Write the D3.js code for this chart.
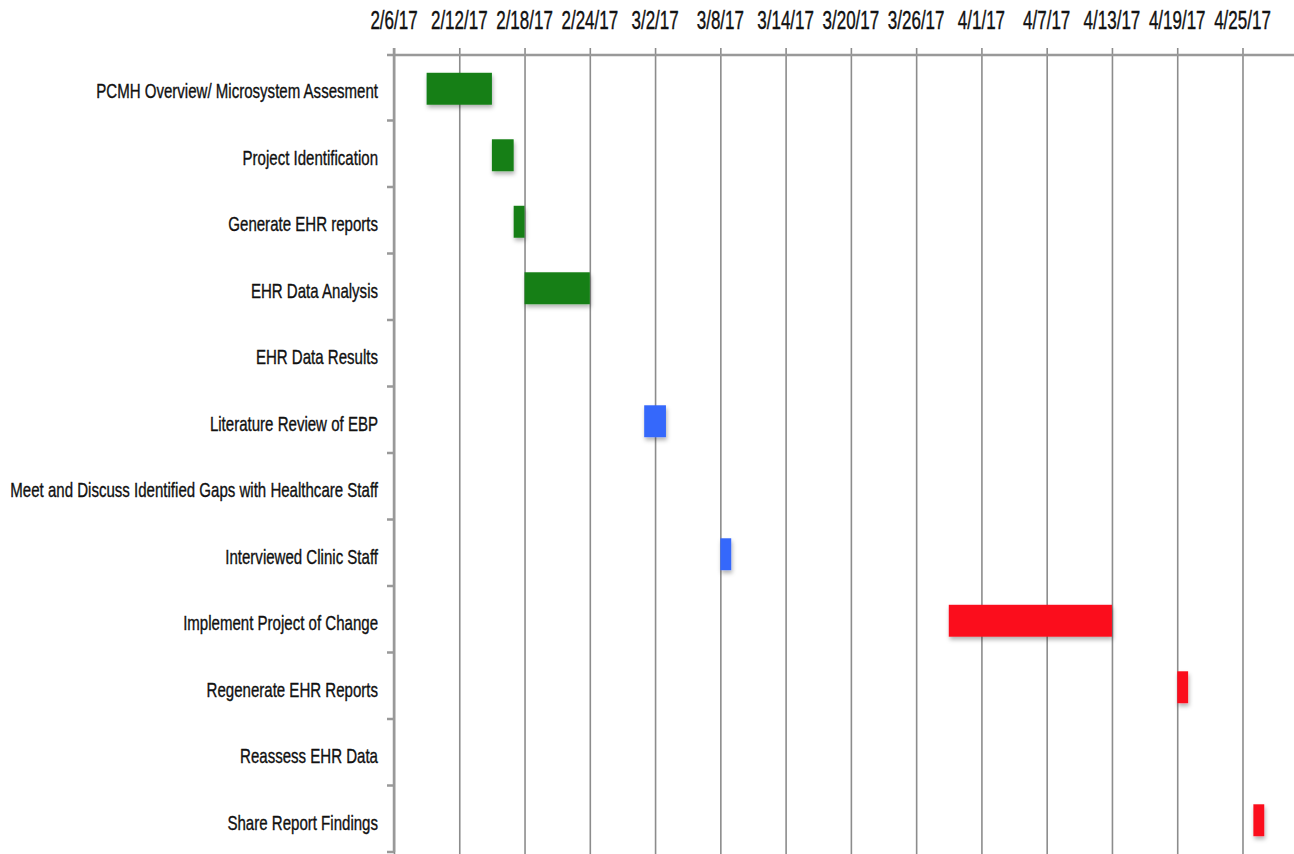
<!DOCTYPE html>
<head>
<style>
  body { margin: 0; background: #fff; }
  .grid line { stroke: #8c8c8c; stroke-width: 1.6px; }
  .grid path { display: none; }
  .axis-line { stroke: #999; stroke-width: 2.5px; fill: none; }
  .date-label { font-family: "Liberation Sans", Arial, sans-serif; font-size: 25px; fill: #111; stroke: #111; stroke-width: 0.4px; }
  .task-label { font-family: "Liberation Sans", Arial, sans-serif; font-size: 20px; fill: #111; stroke: #111; stroke-width: 0.35px; }
</style>
</head>
<body>
<svg width="1294" height="854"></svg>
<script src="https://d3js.org/d3.v7.min.js"></script>
<script>

var tasks = [
  "PCMH Overview/ Microsystem Assesment",
  "Project Identification",
  "Generate EHR reports ",
  "EHR Data Analysis ",
  "EHR Data Results",
  "Literature Review of EBP",
  "Meet and Discuss Identified Gaps with Healthcare Staff",
  "Interviewed Clinic Staff",
  "Implement Project of Change",
  "Regenerate EHR Reports",
  "Reassess EHR Data",
  "Share Report Findings"
];
// start / end dates per task (null = no bar drawn)
var starts = ["2017-02-09", "2017-02-15", "2017-02-17", "2017-02-18", null, "2017-03-01", null, "2017-03-08", "2017-03-29", "2017-04-19", null, "2017-04-26"];
var ends   = ["2017-02-15", "2017-02-17", "2017-02-18", "2017-02-24", null, "2017-03-03", null, "2017-03-09", "2017-04-13", "2017-04-20", null, "2017-04-27"];
var phases = ["plan", "plan", "plan", "plan", "plan", "research", "research", "research", "change", "change", "change", "change"];
var tickDates = ["2017-02-06", "2017-02-12", "2017-02-18", "2017-02-24", "2017-03-02", "2017-03-08", "2017-03-14",
                 "2017-03-20", "2017-03-26", "2017-04-01", "2017-04-07", "2017-04-13", "2017-04-19", "2017-04-25"];
var domainDates = ["2017-02-06", "2017-04-29"];

var phaseColor = d3.scaleOrdinal()
    .domain(["plan", "research", "change"])
    .range(["#127f15", "#3467fb", "#fb0d1f"]);

var parse = d3.utcParse("%Y-%m-%d");
var fmt = d3.utcFormat("%-m/%-d/%y");

var svg = d3.select("svg");
var plotLeft = 394, plotTop = 55, plotBottom = 853.5;

var x = d3.scaleUtc()
    .domain(domainDates.map(parse))
    .range([plotLeft, 1286]);

var y = d3.scaleBand()
    .domain(tasks)
    .range([plotTop + 0.5, plotBottom])
    .paddingInner(0.52)
    .paddingOuter(0.26);

var rowH = (plotBottom - plotTop - 0.5) / tasks.length;

// drop shadow for bars
var defs = svg.append("defs");
defs.append("filter")
    .attr("id", "shadow")
    .attr("x", "-20%").attr("y", "-20%").attr("width", "160%").attr("height", "180%")
  .append("feDropShadow")
    .attr("dx", 1).attr("dy", 3).attr("stdDeviation", 2.2)
    .attr("flood-color", "#000").attr("flood-opacity", 0.3);

// vertical gridlines + top ticks
var gridAxis = d3.axisTop(x)
    .tickValues(tickDates.map(parse))
    .tickSize(-(854 - plotTop) - 7)
    .tickFormat("");
svg.append("g")
    .attr("class", "grid")
    .attr("transform", "translate(0," + (plotTop - 7) + ")")
    .call(gridAxis);

// date labels (squeezed like the original)
svg.append("g")
  .selectAll("g")
  .data(tickDates.map(parse))
  .join("g")
    .attr("transform", function(d) { return "translate(" + x(d) + ",29) scale(0.68,1)"; })
  .append("text")
    .attr("class", "date-label")
    .attr("text-anchor", "middle")
    .text(function(d) { return fmt(d); });

// axis lines
svg.append("line").attr("class", "axis-line")
    .attr("x1", plotLeft - 7).attr("x2", 1294).attr("y1", plotTop).attr("y2", plotTop);
svg.append("line").attr("class", "axis-line")
    .attr("x1", plotLeft).attr("x2", plotLeft).attr("y1", plotTop - 7).attr("y2", plotBottom - 1.5);

// left row-boundary ticks
svg.append("g")
  .selectAll("line")
  .data(d3.range(1, tasks.length + 1))
  .join("line")
    .attr("class", "axis-line")
    .attr("x1", plotLeft - 7).attr("x2", plotLeft)
    .attr("y1", function(i) { return plotTop + 0.5 + i * rowH - 1.5; })
    .attr("y2", function(i) { return plotTop + 0.5 + i * rowH - 1.5; });

// task labels
var labelG = svg.append("g")
  .selectAll("g")
  .data(tasks)
  .join("g");
var labels = labelG.append("text")
    .attr("class", "task-label")
    .attr("text-anchor", "end")
    .attr("dy", "0.35em")
    .text(function(d) { return d; });

// squeeze so the longest label spans about 368px, as in the original
var widest = d3.max(labels.nodes(), function(n) { return n.getComputedTextLength(); });
var sx = Math.min(1, 368 / widest);
labelG.attr("transform", function(d) {
  return "translate(378," + (y(d) + y.bandwidth() / 2 + 2.5) + ") scale(" + sx + ",1)";
});

// bars
var bars = tasks.map(function(t, i) {
  return { task: t, start: starts[i], end: ends[i], phase: phases[i] };
}).filter(function(d) { return d.start; });

svg.append("g")
    .attr("filter", "url(#shadow)")
  .selectAll("rect")
  .data(bars)
  .join("rect")
    .attr("x", function(d) { return x(parse(d.start)); })
    .attr("width", function(d) { return x(parse(d.end)) - x(parse(d.start)); })
    .attr("y", function(d) { return y(d.task); })
    .attr("height", y.bandwidth())
    .attr("fill", function(d) { return phaseColor(d.phase); });

</script>
</body>
